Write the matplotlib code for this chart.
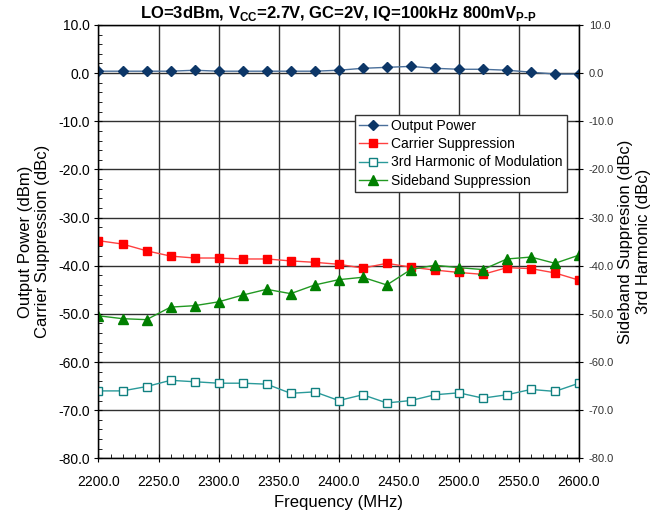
import numpy as np
import matplotlib.pyplot as plt
from matplotlib.ticker import MultipleLocator, FormatStrFormatter

plt.rcParams['font.family'] = ['Liberation Sans', 'DejaVu Sans']
plt.rcParams['axes.unicode_minus'] = False
plt.rcParams['mathtext.fontset'] = 'custom'
plt.rcParams['mathtext.rm'] = 'Liberation Sans:bold'
plt.rcParams['mathtext.bf'] = 'Liberation Sans:bold'

# Frequenze (MHz)
freq = np.arange(2200, 2601, 20)

output_power = [0.4, 0.4, 0.4, 0.4, 0.6, 0.4, 0.4, 0.4, 0.4, 0.4, 0.6,
                1.0, 1.2, 1.4, 1.0, 0.8, 0.8, 0.6, 0.2, -0.2, -0.2]
carrier_supp = [-34.8, -35.5, -36.9, -38.0, -38.4, -38.4, -38.6, -38.6, -39.0, -39.3, -39.7,
                -40.5, -39.5, -40.3, -40.9, -41.4, -41.8, -40.4, -40.6, -41.5, -43.0]
harm3 = [-66.0, -66.0, -65.1, -63.8, -64.1, -64.4, -64.4, -64.6, -66.5, -66.2, -68.0,
         -66.8, -68.5, -68.0, -66.8, -66.4, -67.5, -66.8, -65.7, -66.1, -64.4]
sideband_supp = [-50.4, -51.0, -51.2, -48.6, -48.3, -47.5, -46.1, -44.9, -45.8, -44.0, -42.9,
                 -42.4, -44.0, -40.8, -39.9, -40.4, -40.8, -38.6, -38.2, -39.5, -37.8]

fig = plt.figure(figsize=(6.54, 5.16), dpi=100)
ax = fig.add_axes([0.1506, 0.1118, 0.7347, 0.8398])

ax.plot(freq, output_power, color='#4a6f9a', lw=1, marker='D', ms=5, mfc='#0d3768', mec='#0d3768',
        label='Output Power')
ax.plot(freq, carrier_supp, color='#ff4040', lw=1, marker='s', ms=6, mfc='#ff0000', mec='#ff0000',
        label='Carrier Suppression')
ax.plot(freq, harm3, color='#2a9a9a', lw=1, marker='s', ms=6, mfc='white', mec='#108080',
        label='3rd Harmonic of Modulation')
ax.plot(freq, sideband_supp, color='#229922', lw=1, marker='^', ms=6.5, mfc='#007f00', mec='#007f00',
        label='Sideband Suppression')

ax.set_xlim(2200, 2600)
ax.set_ylim(-80, 10)
ax.xaxis.set_major_locator(MultipleLocator(50))
ax.xaxis.set_minor_locator(MultipleLocator(10))
ax.yaxis.set_major_locator(MultipleLocator(10))
ax.yaxis.set_minor_locator(MultipleLocator(2))
ax.xaxis.set_major_formatter(FormatStrFormatter('%.1f'))
ax.yaxis.set_major_formatter(FormatStrFormatter('%.1f'))
ax.grid(which='major', color='#303030', lw=1)
ax.set_axisbelow(True)
ax.tick_params(which='major', direction='inout', length=6, labelsize=10, colors='black')
ax.tick_params(which='minor', direction='in', length=3)
ax.tick_params(axis='x', pad=9)
ax.tick_params(axis='y', pad=3)
for s in ax.spines.values():
    s.set_linewidth(1)

ax.set_xlabel('Frequency (MHz)', fontsize=12, labelpad=4)
ax.set_ylabel('Output Power (dBm)\nCarrier Suppression (dBc)', fontsize=12, labelpad=6)
ax.set_title(r'LO=3dBm, V$_{\mathrm{CC}}$=2.7V, GC=2V, IQ=100kHz 800mV$_{\mathrm{P\text{-}P}}$',
             fontsize=12, fontweight='bold', pad=5)

ax2 = ax.twinx()
ax2.set_ylim(-80, 10)
ax2.yaxis.set_major_locator(MultipleLocator(10))
ax2.yaxis.set_major_formatter(FormatStrFormatter('%.1f'))
ax2.tick_params(which='major', direction='inout', length=6, labelsize=8, labelcolor='#333333', pad=4)
ax2.set_ylabel('Sideband Suppresion (dBc)\n3rd Harmonic (dBc)', fontsize=12, labelpad=3)

leg = ax.legend(loc='upper left', bbox_to_anchor=(355 / 654, 1 - 115 / 516),
                bbox_transform=fig.transFigure, borderaxespad=0, fontsize=10,
                frameon=True, fancybox=False, framealpha=1, edgecolor='#333333',
                handlelength=2.0, handletextpad=0.3, labelspacing=0.3, borderpad=0.3)
leg.get_frame().set_linewidth(1)

plt.savefig('out.png')
plt.close()
